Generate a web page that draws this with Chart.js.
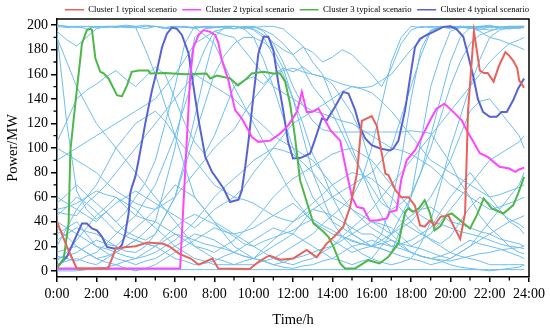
<!DOCTYPE html>
<html><head><meta charset="utf-8">
<script src="https://cdn.jsdelivr.net/npm/chart.js@4.4.0/dist/chart.umd.min.js"></script>
<style>html,body{margin:0;padding:0;background:#fff;}canvas{display:block;}</style>
</head><body>
<canvas id="c" width="550" height="331"></canvas>
<script>
// ---- tick labels ----
const xTickHours = [0,2,4,6,8,10,12,14,16,18,20,22,24];
const xTickLabels = ['0:00','2:00','4:00','6:00','8:00','10:00','12:00','14:00','16:00','18:00','20:00','22:00','24:00'];
const xMinorHours = [1,3,5,7,9,11,13,15,17,19,21,23];
const yTickValues = [0,20,40,60,80,100,120,140,160,180,200];
const yMinorValues = [10,30,50,70,90,110,130,150,170,190];

// ---- typical scenarios ----
const seriesNames = ['Cluster 1 typical scenario','Cluster 2 typical scenario','Cluster 3 typical scenario','Cluster 4 typical scenario'];
const c1Hours = [0,0.5,1.0,2.6,3.0,3.6,4.0,4.6,5.4,5.75,6.2,6.8,7.2,7.9,8.2,9.8,10.3,10.8,11.35,12.0,12.7,13.2,13.7,14.1,14.56,14.9,15.25,15.5,16.0,16.26,16.7,16.85,17.2,17.5,17.87,18.2,18.46,18.7,18.97,19.2,19.5,19.9,20.15,20.5,20.75,20.9,21.2,21.5,21.7,21.9,22.2,22.45,22.8,23.0,23.2,23.4,23.5,23.75];
const c1Power = [40,20,2,2,18.5,19.5,20,23,22,19.5,14,10,5,10,2,1.5,8,12.5,9,10,17,11,22,28,36,52,79,122,126,118,79,78,66,60,60,53,37,36,41,37,44,45,37,26,47,130,195,163,161,161,154,166,178,175,171,165,155,149];
const c2Hours = [0,6.26,6.6,6.77,6.94,7.2,7.45,7.79,8.04,8.2,8.38,8.72,8.9,9.06,9.4,9.73,9.9,10.24,10.84,11.35,11.77,12.2,12.45,12.7,12.96,13.3,13.63,13.9,14.4,14.74,15.0,15.25,15.58,15.9,16.26,16.77,16.93,17.27,17.5,17.78,18.2,18.46,18.97,19.3,19.7,20.15,20.58,20.83,21.17,21.5,21.9,22.2,22.5,23.0,23.3,23.5,23.75];
const c2Power = [2,2,106,158,182,192,196,194.5,192,186,171.5,155,141.6,130.8,124,114.5,109,105,106,111.8,118.6,129.4,145.7,129.4,129.4,132,122.7,114.5,106,79,60,52,50.8,41,41,42.7,48,49.4,73.8,90,98,106,122.6,132,136,129.4,122.6,114.5,105,95.7,92.8,88.7,84.7,83.3,80.6,82.5,84];
const c3Hours = [0,0.34,0.59,0.68,0.93,1.27,1.52,1.7,1.78,1.95,2.2,2.37,2.62,3.05,3.3,3.56,3.8,4.15,4.65,4.74,5.5,6.5,7.6,7.79,8.13,8.8,9.2,9.65,9.9,10.5,11.0,11.35,11.6,11.85,12.1,12.36,12.78,13.04,13.47,13.8,14.06,14.4,14.65,15.16,15.83,16.4,16.85,17.36,17.7,17.87,18.1,18.4,18.7,18.97,19.2,19.5,19.8,20.07,20.58,21.0,21.35,21.7,22.1,22.7,23.2,23.45,23.75];
const c3Power = [2,10,38.6,98,136,185,196,197,196,173,162,160.7,156.6,143,142,151,162,163,163,160.7,161,160,160.7,156.6,159,156.6,151,156.6,160.7,162,160.7,160.7,154,136,109,73.8,52,38.6,33,27.7,19.5,6,2,2,8.7,6,11.4,22.3,48,50.8,48,50.8,57.5,46.7,33,36.4,45.3,46.7,40,34.5,45.3,59,50.8,46.7,53.5,63,76.5];
const c4Hours = [0,0.5,1.27,1.52,1.78,2.03,2.29,2.54,2.88,3.13,3.3,3.47,3.64,3.72,3.81,3.98,4.15,4.49,4.83,5.08,5.34,5.59,5.84,6.1,6.35,6.69,6.94,7.2,7.54,7.88,8.13,8.47,8.8,9.23,9.4,9.57,9.74,10.0,10.24,10.5,10.75,11.0,11.26,11.5,11.75,12.0,12.4,12.87,13.1,13.47,13.72,14.14,14.56,14.82,15.16,15.4,15.67,16.0,16.43,16.94,17.1,17.36,17.7,18.04,18.2,18.46,18.8,19.14,19.64,20.0,20.3,20.66,20.9,21.17,21.4,21.66,22.0,22.36,22.6,22.87,23.2,23.45,23.75];
const c4Power = [3.5,11.4,38.6,38.6,34.5,33,27.7,19.5,18.2,18.2,21,30.4,46.7,63,68.4,76.5,90,120,147,163,182,193,198,197,192,177,150,122.7,92.8,80.6,75,67,56,58,65.7,84.7,106,144,177,190.5,190.5,179.6,152.5,130.8,105,91.5,92,95.6,106,124,122.7,133.5,145.7,144.4,130.8,117,107.8,102.3,99.6,98,99.6,106,130.8,166,182,189,192,194.5,198.6,199,197,190.5,175.6,158,140,129.4,125.4,125.4,129.4,129.4,139,148.5,156.6];

// ---- other scenarios (half-hourly, last point 23:45) ----
const bgHours = [0,0.5,1,1.5,2,2.5,3,3.5,4,4.5,5,5.5,6,6.5,7,7.5,8,8.5,9,9.5,10,10.5,11,11.5,12,12.5,13,13.5,14,14.5,15,15.5,16,16.5,17,17.5,18,18.5,19,19.5,20,20.5,21,21.5,22,22.5,23,23.5,23.75];
const s01 = [199,198,199,197,199,198,199,199, 198,199,199,197,198,199,198,199, 199,198,197,199,196,190,175,160, 140,120,95,80,60,45,30,25, 20,30,55,90,140,180,196,199, 198,199,197,199,198,199,197,198, 198];
const s02 = [195,188,183,190,197,199,198,199, 199,197,199,198,199,199,197,199, 198,199,199,198,197,192,186,180, 176,182,178,170,174,180,176,168, 160,150,165,185,196,199,198,199, 197,199,198,196,199,198,199,197, 199];
const s03 = [105,122,140,147,152,158,163,156, 150,158,166,160,140,120,105,95, 110,130,150,155,158,152,160,165, 162,166,160,158,152,140,128,110, 85,60,48,40,35,30,26,22, 28,40,52,60,55,48,42,38, 35];
const s04 = [193,120,65,50,42,48,40,32, 28,25,30,45,60,90,125,160, 190,198,199,197,199,195,185,170, 150,135,122,115,113,113,113,113, 113,113,113,113,114,113,112,100, 88,72,60,45,35,28,20,15, 14];
const s05 = [1,1,1,1,1,1,1,1, 1,1,1,1,1,1,1,1, 1,1,1,1,1,1,1,1, 1,1,1,1,1,1,1,1, 1,1,1,1,1,1,1,1, 1,1,1,1,1,1,1,1, 1];
const s06 = [45,52,60,55,48,40,32,28, 25,22,20,28,35,42,46,42, 38,33,28,22,20,24,27,30, 33,38,42,37,33,28,24,22, 20,25,30,38,45,50,52,46, 40,38,35,32,30,26,24,22, 20];
const s07 = [55,62,70,62,55,48,40,48, 60,72,90,120,150,185,199,198, 198,199,197,199,199,196,192,185, 176,165,150,140,128,112,95,80, 68,55,50,55,62,80,110,140, 170,190,198,199,200,198,199,199, 199];
const s08 = [10,12,15,20,25,22,20,16, 15,20,30,45,60,85,110,135, 160,175,185,190,190,186,180,165, 140,110,80,60,40,28,20,14, 10,7,5,7,10,22,40,70, 100,125,150,172,190,196,198,199, 199];
const s09 = [40,35,30,25,20,15,10,8, 5,8,10,15,20,25,30,28, 25,20,15,12,10,8,5,7, 10,12,15,18,20,25,30,35, 40,38,35,28,20,18,15,12, 10,15,20,25,30,35,40,43, 45];
const s10 = [20,35,50,60,70,85,100,110, 120,125,130,122,110,100,90,80, 70,65,60,68,80,90,100,110, 120,125,130,135,140,146,150,148, 145,138,130,120,110,100,90,85, 80,75,70,65,60,62,65,68, 70];
const s11 = [5,8,10,7,5,10,15,20, 25,32,40,70,100,145,190,197, 198,199,199,197,190,172,150,125, 100,80,60,50,40,35,30,25, 20,18,15,12,10,8,5,7, 10,15,20,30,40,50,60,70, 80];
const s12 = [0,0,0,1,2,3,5,8, 10,15,20,25,30,28,25,22, 20,18,15,12,10,15,20,25, 30,40,50,55,60,65,70,75, 80,90,100,125,150,175,195,199, 198,199,199,198,199,198,199,198, 198];
const s13 = [60,55,50,45,40,48,55,60, 65,60,55,50,45,40,35,42, 50,55,60,58,55,50,45,42, 40,45,50,48,45,40,35,30, 30,25,20,22,25,30,35,48, 60,70,80,70,60,50,40,35, 30];
const s14 = [30,35,40,30,20,18,15,12, 10,12,15,20,25,32,40,50, 60,68,75,82,90,95,100,98, 95,88,80,70,60,55,50,45, 40,35,30,35,40,50,60,75, 90,110,130,138,140,130,120,110, 100];
const s15 = [200,199,199,199,198,199,199,200, 199,200,199,198,199,198,198,192, 185,168,150,135,120,105,90,75, 60,50,40,35,30,28,25,22, 20,18,15,35,60,105,150,175, 195,198,199,199,199,198,198,199, 199];
const s16 = [90,95,100,105,110,115,120,125, 130,135,140,150,160,172,185,190, 195,192,190,180,170,160,150,145, 140,135,130,128,125,122,120,115, 110,105,100,98,95,90,85,78, 70,65,60,55,50,52,55,58, 60];
const s17 = [15,18,20,15,10,7,5,2, 0,2,5,10,15,20,25,30, 35,32,30,25,20,15,10,7, 5,8,10,15,20,28,35,42, 50,60,70,80,90,100,110,120, 130,140,150,160,170,178,185,188, 190];
const s18 = [8,15,25,35,45,52,60,55, 50,42,35,28,20,15,10,8, 5,5,5,8,10,18,25,32, 40,48,55,62,70,75,80,78, 75,68,60,50,40,32,25,20, 15,12,10,8,5,5,5,5, 5];
const s19 = [190,170,150,135,120,110,100,90, 80,70,60,50,40,30,20,15, 10,8,5,5,5,8,10,15, 20,25,30,38,45,52,60,75, 100,135,170,190,199,198,199,198, 199,198,198,197,196,197,197,198, 199];
const s20 = [48,46,45,55,62,70,80,90, 100,110,120,130,140,150,160,155, 150,145,140,132,125,118,110,105, 100,95,90,80,70,60,50,42, 35,30,25,22,20,25,30,40, 50,60,70,80,90,95,100,105, 110];
const s21 = [100,95,90,85,80,72,65,60, 55,52,50,55,60,70,80,90, 100,108,115,128,140,150,160,163, 165,162,160,158,155,152,150,149, 150,155,160,170,180,188,195,198, 199,199,198,195,190,188,185,182, 180];
const s22 = [25,30,35,32,30,25,20,28, 35,42,50,60,70,65,60,50, 40,35,30,32,35,40,45,50, 55,48,40,32,25,20,15,18, 20,22,25,20,15,12,10,12, 15,20,25,22,20,18,15,12, 10];
const s23 = [50,52,55,60,65,62,60,52, 45,42,40,35,30,25,20,18, 15,20,25,32,40,50,60,68, 75,80,85,90,95,98,100,95, 90,80,70,60,50,45,40,38, 35,32,30,28,25,22,20,19, 18];
const s24 = [12,10,8,12,15,22,30,38, 45,58,70,90,110,135,160,180, 195,197,199,198,198,199,199,197, 190,183,170,160,140,120,100,80, 60,45,30,22,15,12,10,9, 8,10,12,14,15,17,18,19, 20];
const s25 = [200,199,198,199,199,199,199,198, 198,180,160,135,110,85,60,50, 40,30,20,15,10,8,5,3, 2,4,5,8,10,15,20,22, 25,22,20,18,15,12,10,8, 5,3,2,1,0,1,2,3, 5];
const s26 = [35,28,20,15,10,12,15,20, 25,22,20,15,10,8,5,6, 8,12,15,20,25,30,35,32, 30,25,20,15,10,8,5,8, 10,20,30,45,60,80,100,125, 150,170,185,192,195,198,199,199, 198];
const bgSeries = [s01,s02,s03,s04,s05,s06,s07,s08,s09,s10,s11,s12,s13,s14,s15,s16,s17,s18,s19,s20,s21,s22,s23,s24,s25,s26];

// ---- build ----
const FONT = '"Liberation Serif","Times New Roman",serif';
const typColors = ['#E8625A','#FF45FF','#4DB848','#5662D6'];
const bgColor = 'rgb(110,190,238)';
const pts = (hs, vs) => hs.map((h, i) => ({x: h, y: vs[i]}));
const typical = [[c1Hours,c1Power],[c2Hours,c2Power],[c3Hours,c3Power],[c4Hours,c4Power]];

const datasets = typical.map((t, i) => ({
  label: seriesNames[i], data: pts(t[0], t[1]),
  borderColor: typColors[i], backgroundColor: typColors[i],
  borderWidth: 2, pointRadius: 0, tension: 0
}));
bgSeries.forEach((s, i) => datasets.push({
  label: 'scenario ' + (i + 1), data: pts(bgHours, s),
  borderColor: bgColor, backgroundColor: bgColor,
  borderWidth: 1, pointRadius: 0, tension: 0
}));

const framePlugin = {
  id: 'frame',
  afterDraw(chart) {
    const {ctx, chartArea: a, scales: {x, y}} = chart;
    ctx.save();
    ctx.strokeStyle = '#000';
    ctx.lineWidth = 1.5;
    ctx.beginPath();
    ctx.moveTo(a.left, a.top); ctx.lineTo(a.right, a.top); ctx.lineTo(a.right, a.bottom);
    ctx.stroke();
    ctx.lineWidth = 1.3;
    ctx.beginPath();
    xMinorHours.forEach(h => { const px = x.getPixelForValue(h); ctx.moveTo(px, a.bottom); ctx.lineTo(px, a.bottom + 3.5); });
    yMinorValues.forEach(v => { const py = y.getPixelForValue(v); ctx.moveTo(a.left, py); ctx.lineTo(a.left - 3.5, py); });
    ctx.stroke();
    ctx.restore();
  }
};

new Chart(document.getElementById('c'), {
  type: 'line',
  data: {datasets},
  plugins: [framePlugin],
  options: {
    responsive: false, animation: false,
    layout: {padding: {top: 0, right: 15.5, bottom: 0, left: 0}},
    plugins: {
      tooltip: {enabled: false},
      legend: {
        position: 'top', align: 'end', maxHeight: 19,
        labels: {
          boxWidth: 19, boxHeight: 1.5, padding: 5.5, color: '#000',
          font: {family: FONT, size: 8.7},
          generateLabels: () => seriesNames.map((n, i) => ({
            text: n, fillStyle: typColors[i], strokeStyle: typColors[i],
            lineWidth: 0, hidden: false, datasetIndex: i
          }))
        }
      }
    },
    scales: {
      x: {
        type: 'linear', min: 0, max: 24,
        afterBuildTicks: s => { s.ticks = xTickHours.map(v => ({value: v})); },
        afterFit: s => { s.height = 54; s.paddingRight = 21; },
        ticks: {
          color: '#000', font: {family: FONT, size: 14}, padding: 4, maxRotation: 0, autoSkip: false,
          callback: v => xTickLabels[xTickHours.indexOf(v)]
        },
        grid: {drawOnChartArea: false, drawTicks: true, tickLength: 5, color: '#000', lineWidth: 1.5},
        border: {color: '#000', width: 1.5},
        title: {display: true, text: 'Time/h', color: '#000', font: {family: FONT, size: 14.5}, padding: {top: 0, bottom: 2.3}}
      },
      y: {
        type: 'linear', min: -5, max: 205,
        afterBuildTicks: s => { s.ticks = yTickValues.map(v => ({value: v})); },
        afterFit: s => { s.width = 57; },
        ticks: {color: '#000', font: {family: FONT, size: 14}, padding: 3, autoSkip: false, callback: v => String(v)},
        grid: {drawOnChartArea: false, drawTicks: true, tickLength: 6, color: '#000', lineWidth: 1.5},
        border: {color: '#000', width: 1.5},
        title: {display: true, text: 'Power/MW', color: '#000', font: {family: FONT, size: 14.5}, padding: {top: 4.3, bottom: 0}}
      }
    }
  }
});
</script>
</body></html>
